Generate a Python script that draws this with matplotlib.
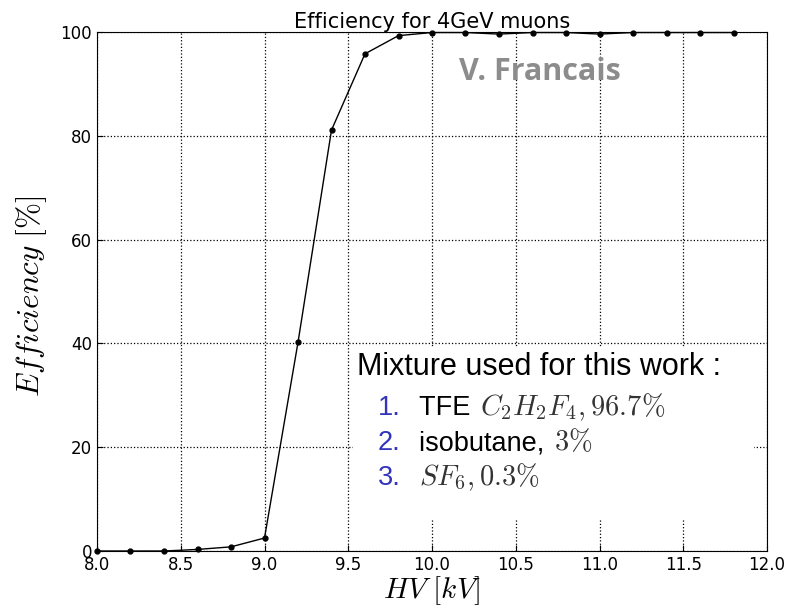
import matplotlib
matplotlib.use("Agg")
import matplotlib.pyplot as plt
from matplotlib.patches import Rectangle

plt.rcParams['mathtext.fontset'] = 'cm'

hv = [8.0, 8.2, 8.4, 8.6, 8.8, 9.0, 9.2, 9.4, 9.6, 9.8, 10.0, 10.2, 10.4,
      10.6, 10.8, 11.0, 11.2, 11.4, 11.6, 11.8]
eff = [0.0, 0.0, 0.0, 0.3, 0.8, 2.5, 40.2, 81.1, 95.8, 99.3, 99.9, 99.9, 99.6,
       99.9, 99.9, 99.6, 99.9, 99.9, 99.9, 99.9]
xticks = [8.0, 8.5, 9.0, 9.5, 10.0, 10.5, 11.0, 11.5, 12.0]
yticks = [0, 20, 40, 60, 80, 100]

fig = plt.figure(figsize=(8.02, 6.10), dpi=100)
ax = fig.add_axes([97/802, 59/610, 670/802, 519/610])
ax.plot(hv, eff, color='black', lw=1.0, marker='o', ms=3.5, zorder=3, clip_on=False)
ax.set_xlim(8.0, 12.0)
ax.set_ylim(0, 100)
ax.set_xticks(xticks)
ax.set_xticklabels([f"{t:.1f}" for t in xticks])
ax.set_yticks(yticks)
ax.tick_params(direction='in', labelsize=12, length=4)
ax.grid(True, color='black', linestyle=':', lw=0.9)
ax.set_axisbelow(True)
ax.set_title("Efficiency for 4GeV muons", fontsize=15, pad=3)
ax.set_xlabel(r"$HV\ [kV]$", fontsize=21, labelpad=0)
ax.set_ylabel(r"$Efficiency\ [\%]$", fontsize=22.5)
ax.yaxis.set_label_coords(-0.072, 0.49)

# white box behind mixture text
ax.add_patch(Rectangle((9.53, 6.2), 2.39, 33.1, transform=ax.transData,
                       facecolor='white', edgecolor='none', zorder=2))

fs_head = 22
fs_item = 19.5
fs_math = 20.5
ax.text(357/802, (610-375)/610, "Mixture used for this work :", transform=fig.transFigure,
        fontsize=fs_head, family='Liberation Sans', color='black', zorder=4, va='baseline')
blue = '#3333bb'
rows = [
    (415, "1.", [("TFE ", 'Liberation Sans', 'black'), (r"$C_2H_2F_4, 96.7\%$", None, '#333333')]),
    (450, "2.", [("isobutane, ", 'Liberation Sans', 'black'), (r"$3\%$", None, '#333333')]),
    (485, "3.", [(r"$SF_6, 0.3\%$", None, '#333333')]),
]
renderer = fig.canvas.get_renderer()
for ypix, num, parts in rows:
    yf = (610 - ypix) / 610
    ax.text(378/802, yf, num, transform=fig.transFigure, fontsize=fs_item,
            family='Liberation Sans', color=blue, zorder=4, va='baseline')
    xcur = 419
    for txt, fam, col in parts:
        kw = dict(transform=fig.transFigure, color=col, zorder=4, va='baseline')
        if fam:
            kw['family'] = fam
            kw['fontsize'] = fs_item
        else:
            kw['fontsize'] = fs_math
        t = ax.text(xcur/802, yf, txt, **kw)
        bb = t.get_window_extent(renderer=renderer)
        xcur += bb.width + (2 if fam else 0)

ax.text(540/802, (610-72)/610, "V. Francais", transform=fig.transFigure, fontsize=22,
        family='Open Sans', fontweight='bold', color='#8c8c8c', ha='center', va='center', zorder=4)

fig.savefig("out.png", dpi=100)
